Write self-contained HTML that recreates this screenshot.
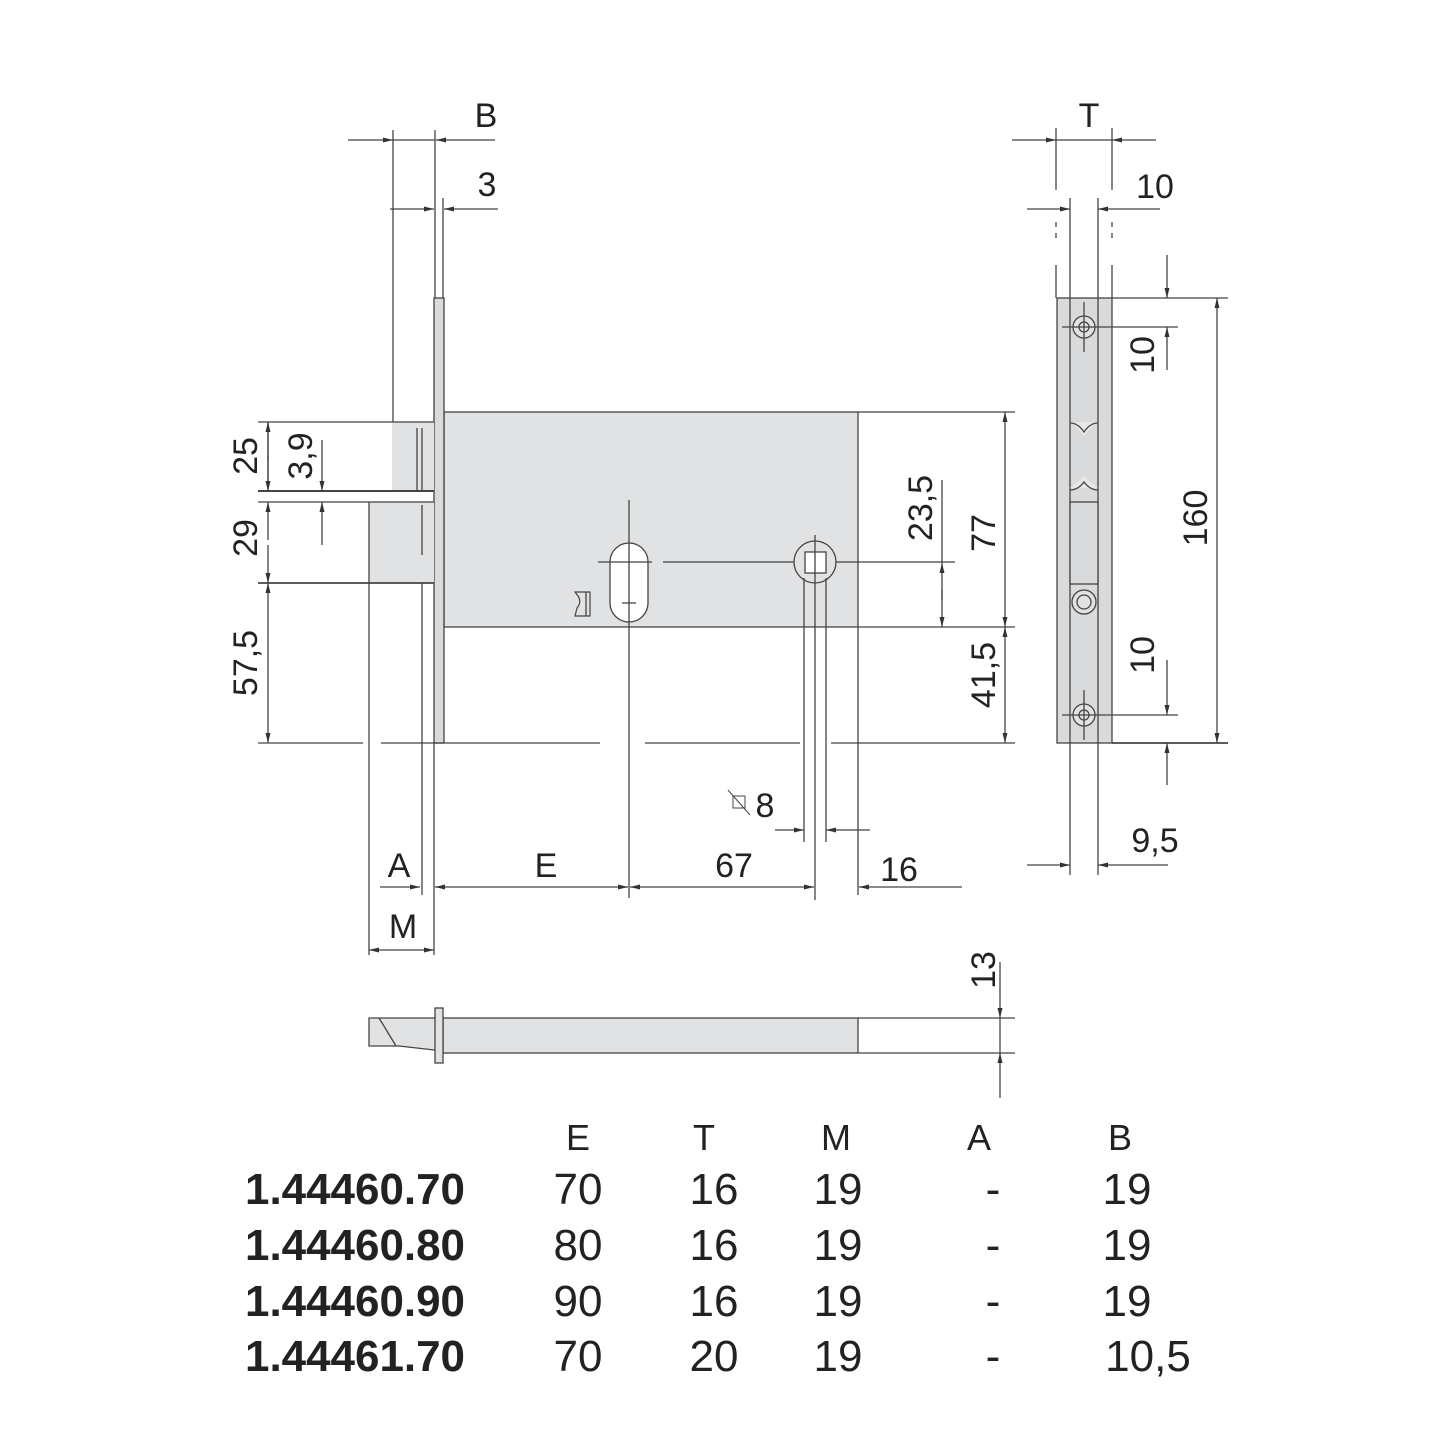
<!DOCTYPE html>
<html><head><meta charset="utf-8"><style>html,body{margin:0;padding:0;background:#fff}svg{display:block}</style></head>
<body>
<svg width="1445" height="1445" viewBox="0 0 1445 1445" xmlns="http://www.w3.org/2000/svg" font-family="Liberation Sans, sans-serif">
<defs>
<marker id="a" viewBox="0 0 10 6" refX="10" refY="3" markerWidth="10" markerHeight="6" markerUnits="userSpaceOnUse" orient="auto"><path d="M0,0.5 L10,3 L0,5.5z" fill="#333"/></marker>
</defs>
<rect width="1445" height="1445" fill="#fff"/>
<g stroke="#444" stroke-width="1.3" fill="none">
<!-- gray fills -->
<rect x="444" y="412" width="414" height="215" fill="#e1e2e3"/>
<rect x="434" y="298" width="10" height="445" fill="#d9dadb"/>
<rect x="392" y="422" width="42" height="69" fill="#e1e2e3" stroke="none"/>
<rect x="369" y="502" width="65" height="81" fill="#e1e2e3" stroke="none"/>
<!-- B / 3 -->
<line x1="393" y1="130" x2="393" y2="422"/>
<line x1="435" y1="130" x2="435" y2="298"/>
<line x1="443" y1="198" x2="443" y2="298"/>
<line x1="348" y1="140" x2="393" y2="140" marker-end="url(#a)"/>
<line x1="495" y1="140" x2="436" y2="140" marker-end="url(#a)"/>
<line x1="393" y1="140" x2="435" y2="140"/>
<line x1="390" y1="209" x2="434" y2="209" marker-end="url(#a)"/>
<line x1="498" y1="209" x2="444" y2="209" marker-end="url(#a)"/>
<!-- bolt & latch -->
<line x1="258" y1="422" x2="434" y2="422"/>
<line x1="258" y1="491" x2="434" y2="491" stroke-width="2"/>
<line x1="258" y1="502" x2="434" y2="502"/>
<line x1="369" y1="502" x2="369" y2="955"/>
<line x1="258" y1="583" x2="434" y2="583" stroke-width="1.8"/>
<line x1="417" y1="428" x2="417" y2="490"/>
<line x1="422" y1="428" x2="422" y2="490"/>
<line x1="422" y1="505" x2="422" y2="555"/>
<line x1="422" y1="583" x2="422" y2="895"/>
<line x1="434" y1="743" x2="434" y2="955"/>
<!-- left dims -->
<line x1="268" y1="422" x2="268" y2="491"/>
<line x1="268" y1="460" x2="268" y2="422" marker-end="url(#a)"/>
<line x1="268" y1="455" x2="268" y2="491" marker-end="url(#a)"/>
<line x1="268" y1="540" x2="268" y2="502" marker-end="url(#a)"/>
<line x1="268" y1="545" x2="268" y2="583" marker-end="url(#a)"/>
<line x1="268" y1="660" x2="268" y2="583" marker-end="url(#a)"/>
<line x1="268" y1="660" x2="268" y2="743" marker-end="url(#a)"/>
<line x1="322" y1="440" x2="322" y2="491" marker-end="url(#a)"/>
<line x1="322" y1="545" x2="322" y2="502" marker-end="url(#a)"/>
<line x1="258" y1="743" x2="363" y2="743"/>
<line x1="381" y1="743" x2="600" y2="743"/>
<line x1="645" y1="743" x2="800" y2="743"/>
<line x1="831" y1="743" x2="1015" y2="743"/>
<!-- body extensions -->
<line x1="858" y1="412" x2="1015" y2="412"/>
<line x1="858" y1="627" x2="1015" y2="627"/>
<line x1="858" y1="627" x2="858" y2="895"/>
<line x1="1005" y1="520" x2="1005" y2="412" marker-end="url(#a)"/>
<line x1="1005" y1="520" x2="1005" y2="627" marker-end="url(#a)"/>
<line x1="1005" y1="690" x2="1005" y2="627" marker-end="url(#a)"/>
<line x1="1005" y1="690" x2="1005" y2="743" marker-end="url(#a)"/>
<line x1="942" y1="480" x2="942" y2="563"/>
<line x1="942" y1="600" x2="942" y2="563" marker-end="url(#a)"/>
<line x1="942" y1="590" x2="942" y2="627" marker-end="url(#a)"/>
<!-- keyhole -->
<rect x="610" y="543" width="38" height="79" rx="19" fill="#fff"/>
<line x1="629" y1="500" x2="629" y2="898"/>
<line x1="598" y1="562" x2="652" y2="562"/>
<line x1="663" y1="562" x2="955" y2="562"/>
<line x1="622" y1="603" x2="636" y2="603"/>
<path d="M575 592 L590 592 L590 616 L575 616 L577 608 Q582 602 578 596 Z" stroke-width="1.2"/>
<line x1="586" y1="592" x2="586" y2="616"/>
<!-- spindle -->
<circle cx="815" cy="562" r="21" fill="#e1e2e3"/>
<rect x="805" y="552" width="21" height="21" fill="#fff"/>
<line x1="815" y1="535" x2="815" y2="900"/>
<line x1="804" y1="578" x2="804" y2="842"/>
<line x1="826" y1="578" x2="826" y2="842"/>
<line x1="775" y1="830" x2="804" y2="830" marker-end="url(#a)"/>
<line x1="870" y1="830" x2="826" y2="830" marker-end="url(#a)"/>
<rect x="733" y="796" width="12" height="12" stroke-width="1"/>
<line x1="728" y1="790" x2="750" y2="815" stroke-width="1"/>
<!-- bottom dims -->
<line x1="380" y1="887" x2="420" y2="887" marker-end="url(#a)"/>
<line x1="470" y1="887" x2="435" y2="887" marker-end="url(#a)"/>
<line x1="470" y1="887" x2="628" y2="887" marker-end="url(#a)"/>
<line x1="700" y1="887" x2="630" y2="887" marker-end="url(#a)"/>
<line x1="700" y1="887" x2="814" y2="887" marker-end="url(#a)"/>
<line x1="962" y1="887" x2="859" y2="887" marker-end="url(#a)"/>
<line x1="400" y1="950" x2="369" y2="950" marker-end="url(#a)"/>
<line x1="400" y1="950" x2="434" y2="950" marker-end="url(#a)"/>
<!-- bottom bolt view -->
<rect x="443" y="1018" width="415" height="35" fill="#e1e2e3"/>
<path d="M443 1018 L369 1018 L369 1046 L399 1046 L443 1051" fill="#e1e2e3"/>
<line x1="379" y1="1018" x2="396" y2="1046"/>
<rect x="435" y="1008" width="8" height="55" fill="#e1e2e3"/>
<line x1="858" y1="1018" x2="1015" y2="1018"/>
<line x1="858" y1="1053" x2="1015" y2="1053"/>
<line x1="1000" y1="962" x2="1000" y2="1018" marker-end="url(#a)"/>
<line x1="1000" y1="1098" x2="1000" y2="1053" marker-end="url(#a)"/>
<line x1="1000" y1="1018" x2="1000" y2="1053"/>
<!-- right faceplate -->
<rect x="1057" y="298" width="55" height="445" fill="#d9dadb"/>
<line x1="1070" y1="298" x2="1070" y2="743"/>
<line x1="1098" y1="298" x2="1098" y2="743"/>
<path d="M1070 422 L1098 422 Q1090 428 1084 436 Q1078 428 1070 422Z M1070 488 Q1078 482 1084 476 Q1090 482 1098 488" fill="#e6e7e8" stroke="none"/>
<path d="M1070 423 Q1078 423 1084 432 Q1090 423 1098 423 M1070 490 Q1078 490 1084 482 Q1090 490 1098 490" />
<rect x="1070" y="502" width="28" height="82" fill="#d9dadb"/>
<circle cx="1084" cy="327" r="11" fill="#e1e2e3"/><circle cx="1084" cy="327" r="5"/>
<circle cx="1084" cy="602" r="12" fill="#e1e2e3"/><circle cx="1084" cy="602" r="7"/>
<circle cx="1084" cy="715" r="11" fill="#e1e2e3"/><circle cx="1084" cy="715" r="5"/>
<line x1="1084" y1="302" x2="1084" y2="352"/>
<line x1="1084" y1="690" x2="1084" y2="740"/>
<line x1="1062" y1="327" x2="1178" y2="327"/>
<line x1="1062" y1="715" x2="1178" y2="715"/>
<line x1="1112" y1="298" x2="1228" y2="298"/>
<line x1="1112" y1="743" x2="1228" y2="743" stroke-width="1.8"/>
<line x1="1070" y1="743" x2="1070" y2="875"/>
<line x1="1098" y1="743" x2="1098" y2="875"/>
<line x1="1070" y1="198" x2="1070" y2="298"/>
<line x1="1098" y1="198" x2="1098" y2="298"/>
<line x1="1056" y1="128" x2="1056" y2="190"/>
<line x1="1112" y1="128" x2="1112" y2="190"/>
<line x1="1056" y1="222" x2="1056" y2="240" stroke-dasharray="5 6"/>
<line x1="1112" y1="222" x2="1112" y2="240" stroke-dasharray="5 6"/>
<line x1="1056" y1="265" x2="1056" y2="298"/>
<line x1="1112" y1="265" x2="1112" y2="298"/>
<line x1="1012" y1="140" x2="1056" y2="140" marker-end="url(#a)"/>
<line x1="1156" y1="140" x2="1112" y2="140" marker-end="url(#a)"/>
<line x1="1056" y1="140" x2="1112" y2="140"/>
<line x1="1027" y1="209" x2="1070" y2="209" marker-end="url(#a)"/>
<line x1="1160" y1="209" x2="1098" y2="209" marker-end="url(#a)"/>
<line x1="1027" y1="865" x2="1070" y2="865" marker-end="url(#a)"/>
<line x1="1168" y1="865" x2="1098" y2="865" marker-end="url(#a)"/>
<line x1="1217" y1="520" x2="1217" y2="298" marker-end="url(#a)"/>
<line x1="1217" y1="520" x2="1217" y2="743" marker-end="url(#a)"/>
<line x1="1167" y1="255" x2="1167" y2="298" marker-end="url(#a)"/>
<line x1="1167" y1="370" x2="1167" y2="327" marker-end="url(#a)"/>
<line x1="1167" y1="660" x2="1167" y2="715" marker-end="url(#a)"/>
<line x1="1167" y1="785" x2="1167" y2="743" marker-end="url(#a)"/>
</g>
<g fill="#222" font-size="34">
<text x="486" y="127" text-anchor="middle">B</text>
<text x="487" y="196" text-anchor="middle">3</text>
<text x="1089" y="127" text-anchor="middle">T</text>
<text x="1155" y="198" text-anchor="middle">10</text>
<text x="1155" y="852" text-anchor="middle">9,5</text>
<text x="765" y="817" text-anchor="middle">8</text>
<text x="399" y="877" text-anchor="middle">A</text>
<text x="546" y="877" text-anchor="middle">E</text>
<text x="734" y="877" text-anchor="middle">67</text>
<text x="899" y="881" text-anchor="middle">16</text>
<text x="403" y="938" text-anchor="middle">M</text>
<g text-anchor="middle">
<text transform="translate(257,456) rotate(-90)">25</text>
<text transform="translate(312,456) rotate(-90)">3,9</text>
<text transform="translate(257,538) rotate(-90)">29</text>
<text transform="translate(257,663) rotate(-90)">57,5</text>
<text transform="translate(932,508) rotate(-90)">23,5</text>
<text transform="translate(995,533) rotate(-90)">77</text>
<text transform="translate(995,675) rotate(-90)">41,5</text>
<text transform="translate(1154,355) rotate(-90)">10</text>
<text transform="translate(1154,655) rotate(-90)">10</text>
<text transform="translate(1207,518) rotate(-90)">160</text>
<text transform="translate(995,970) rotate(-90)">13</text>
</g>
</g>
<g fill="#222" font-size="36" text-anchor="middle">
<text x="578" y="1150">E</text><text x="704" y="1150">T</text><text x="836" y="1150">M</text><text x="979" y="1150">A</text><text x="1120" y="1150">B</text>
</g>
<g fill="#222" font-size="44">
<g font-weight="bold">
<text x="245" y="1204" textLength="220" lengthAdjust="spacingAndGlyphs">1.44460.70</text>
<text x="245" y="1260" textLength="220" lengthAdjust="spacingAndGlyphs">1.44460.80</text>
<text x="245" y="1316" textLength="220" lengthAdjust="spacingAndGlyphs">1.44460.90</text>
<text x="245" y="1371" textLength="220" lengthAdjust="spacingAndGlyphs">1.44461.70</text>
</g>
<g text-anchor="middle">
<text x="578" y="1204">70</text><text x="714" y="1204">16</text><text x="838" y="1204">19</text><text x="993" y="1204">-</text><text x="1127" y="1204">19</text>
<text x="578" y="1260">80</text><text x="714" y="1260">16</text><text x="838" y="1260">19</text><text x="993" y="1260">-</text><text x="1127" y="1260">19</text>
<text x="578" y="1316">90</text><text x="714" y="1316">16</text><text x="838" y="1316">19</text><text x="993" y="1316">-</text><text x="1127" y="1316">19</text>
<text x="578" y="1371">70</text><text x="714" y="1371">20</text><text x="838" y="1371">19</text><text x="993" y="1371">-</text><text x="1148" y="1371">10,5</text>
</g>
</g>
</svg>
</body></html>
